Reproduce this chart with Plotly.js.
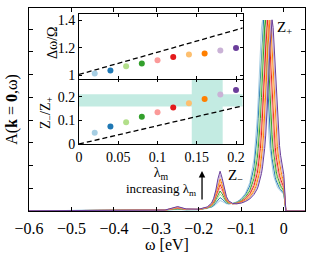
<!DOCTYPE html>
<html><head><meta charset="utf-8">
<script src="https://cdn.plot.ly/plotly-3.0.1.min.js"></script>
<style>html,body{margin:0;padding:0;background:#fff;} #chart{width:312px;height:253px;}</style>
</head><body><div id="chart"></div>
<script>
// ---------- data ----------
const omega = [-0.6,-0.4,-0.32,-0.28,-0.27,-0.25,-0.23,-0.2,-0.18,-0.17,-0.165,-0.16,-0.155,-0.15,-0.145,-0.14,-0.135,-0.13,-0.12,-0.11,-0.1,-0.09,-0.08,-0.07,
 -0.065,-0.0625,-0.06,-0.0575,-0.055,-0.0525,-0.05,-0.0475,-0.045,-0.0425,-0.04,-0.0375,-0.035,-0.0325,-0.03,-0.0275,-0.025,-0.0225,-0.02,-0.0175,-0.015,-0.0125,-0.01,-0.0075,-0.005,-0.0025,0,
 0.005,0.05];

const spec_l002 = [0.01,0.02,0.03,0.04,0.05,0.06,0.05,0.06,0.11,0.16,0.21,0.29,0.39,0.46,0.42,0.36,0.32,0.31,0.34,0.41,0.55,0.79,1.25,2.30,
 3.34,4.08,5.00,6.07,7.17,8.05,8.40,8.05,7.17,6.07,5.00,4.08,3.34,2.75,2.30,1.95,1.67,1.46,1.30,1.17,1.06,0.98,0.92,0.86,0.82,0.78,0.73,0,0];
const spec_l004 = [0.01,0.02,0.03,0.04,0.055,0.075,0.055,0.06,0.12,0.18,0.25,0.35,0.49,0.59,0.52,0.42,0.35,0.32,0.33,0.39,0.51,0.72,1.10,1.94,
 2.75,3.34,4.08,5.00,6.07,7.17,8.05,8.40,8.05,7.17,6.07,5.00,4.08,3.34,2.75,2.31,1.96,1.68,1.48,1.32,1.19,1.08,1.00,0.94,0.88,0.83,0.78,0,0];
const spec_l006 = [0.01,0.02,0.03,0.04,0.06,0.09,0.06,0.06,0.13,0.20,0.29,0.43,0.61,0.74,0.64,0.49,0.38,0.33,0.33,0.38,0.48,0.66,0.98,1.66,
 2.30,2.75,3.34,4.08,5.00,6.07,7.17,8.05,8.40,8.05,7.17,6.07,5.00,4.08,3.34,2.76,2.32,1.97,1.70,1.50,1.34,1.21,1.10,1.02,0.96,0.89,0.83,0,0];
const spec_l008 = [0.01,0.02,0.03,0.04,0.064,0.105,0.064,0.07,0.13,0.23,0.33,0.50,0.73,0.88,0.75,0.55,0.41,0.35,0.32,0.36,0.45,0.61,0.88,1.44,
 1.94,2.30,2.75,3.34,4.08,5.00,6.07,7.17,8.05,8.40,8.05,7.17,6.07,5.00,4.08,3.35,2.77,2.33,1.99,1.72,1.52,1.36,1.23,1.12,1.04,0.97,0.89,0,0];
const spec_l010 = [0.01,0.02,0.03,0.04,0.068,0.12,0.068,0.07,0.14,0.25,0.37,0.57,0.84,1.03,0.87,0.62,0.45,0.36,0.32,0.35,0.43,0.57,0.80,1.25,
 1.65,1.94,2.30,2.75,3.34,4.08,5.00,6.07,7.17,8.05,8.40,8.05,7.17,6.07,5.00,4.09,3.36,2.78,2.35,2.01,1.74,1.54,1.38,1.25,1.14,1.05,0.97,0,0];
const spec_l012 = [0.01,0.02,0.03,0.04,0.073,0.135,0.073,0.07,0.15,0.27,0.40,0.64,0.96,1.17,0.98,0.69,0.48,0.38,0.32,0.34,0.41,0.53,0.73,1.11,
 1.43,1.65,1.94,2.30,2.75,3.34,4.08,5.00,6.07,7.17,8.05,8.40,8.05,7.17,6.07,5.01,4.10,3.37,2.80,2.37,2.03,1.76,1.56,1.40,1.27,1.15,1.05,0,0];
const spec_l014 = [0.01,0.02,0.03,0.04,0.077,0.15,0.077,0.07,0.16,0.29,0.44,0.70,1.05,1.29,1.07,0.75,0.51,0.39,0.32,0.33,0.39,0.50,0.67,0.98,
 1.25,1.43,1.65,1.94,2.30,2.75,3.34,4.08,5.00,6.07,7.17,8.05,8.40,8.05,7.17,6.08,5.02,4.11,3.39,2.82,2.39,2.05,1.78,1.58,1.42,1.28,1.15,0,0];
const spec_l016 = [0.01,0.02,0.03,0.04,0.082,0.165,0.082,0.07,0.16,0.30,0.47,0.76,1.15,1.42,1.17,0.81,0.54,0.40,0.32,0.32,0.38,0.47,0.61,0.88,
 1.10,1.25,1.43,1.65,1.94,2.30,2.75,3.34,4.08,5.00,6.07,7.17,8.05,8.40,8.05,7.18,6.09,5.03,4.13,3.41,2.84,2.41,2.07,1.80,1.60,1.43,1.28,0,0];
const spec_l018 = [0.01,0.02,0.03,0.04,0.086,0.18,0.086,0.08,0.17,0.33,0.51,0.84,1.28,1.58,1.31,0.89,0.59,0.43,0.32,0.32,0.36,0.45,0.57,0.80,
 0.97,1.10,1.25,1.43,1.65,1.94,2.30,2.75,3.34,4.08,5.00,6.07,7.17,8.05,8.40,8.06,7.19,6.10,5.05,4.15,3.43,2.86,2.43,2.09,1.82,1.61,1.43,0,0];
const spec_l020 = [0.01,0.02,0.03,0.04,0.09,0.195,0.09,0.08,0.18,0.35,0.56,0.92,1.42,1.75,1.44,0.97,0.63,0.45,0.33,0.32,0.35,0.42,0.53,0.73,
 0.87,0.97,1.10,1.25,1.43,1.65,1.94,2.30,2.75,3.34,4.08,5.00,6.07,7.17,8.05,8.41,8.07,7.20,6.12,5.07,4.17,3.45,2.88,2.45,2.11,1.83,1.61,0,0];

const spectra = [spec_l002,spec_l004,spec_l006,spec_l008,spec_l010,spec_l012,spec_l014,spec_l016,spec_l018,spec_l020];

const lambdaM = [0.02,0.04,0.06,0.08,0.10,0.12,0.14,0.16,0.18,0.20];
const dOmegaRatio = [1.012,1.035,1.065,1.086,1.11,1.133,1.152,1.159,1.18,1.198];
const zRatio = [0.048,0.074,0.092,0.116,0.135,0.155,0.173,0.191,0.21,0.229];

const dashTopX = [0, 0.2085], dashTopY = [1.005, 1.345];
const dashBotX = [0, 0.2085], dashBotY = [0, 0.162];
const bandZ = [0.159, 0.211];
const bandLambda = [0.1436, 0.183];

const mainXTicks = [-0.6,-0.5,-0.4,-0.3,-0.2,-0.1,0];
const mainXLabels = ['−0.6','−0.5','−0.4','−0.3','−0.2','−0.1','0'];
const mainYTicks = [1,2,3,4,5,6,7,8];
const insetXTicks = [0,0.05,0.1,0.15,0.2];
const insetXLabels = ['0','0.05','0.1','0.15','0.2'];
const topYTicks = [1,1.2,1.4], topYLabels = ['1','1.2','1.4'];
const botYTicks = [0,0.1,0.2], botYLabels = ['0','0.1','0.2'];

const colors = ['#a6cee3','#1f78b4','#b2df8a','#33a02c','#fb9a99','#e31a1c','#fdbf6f','#ff7f00','#cab2d6','#6a3d9a'];

// ---------- traces ----------
const traces = [];
spectra.forEach((s,i)=>{
  traces.push({x:omega, y:s, type:'scatter', mode:'lines', xaxis:'x', yaxis:'y',
    line:{color:colors[i], width:1}, hoverinfo:'skip'});
});
traces.push({x:dashTopX, y:dashTopY, xaxis:'x3', yaxis:'y3', mode:'lines', line:{color:'black', width:1.3, dash:'5px,3px'}});
traces.push({x:dashBotX, y:dashBotY, xaxis:'x2', yaxis:'y2', mode:'lines', line:{color:'black', width:1.3, dash:'5px,3px'}});
traces.push({x:lambdaM, y:dOmegaRatio, xaxis:'x3', yaxis:'y3', mode:'markers', marker:{color:colors, size:6}});
traces.push({x:lambdaM, y:zRatio, xaxis:'x2', yaxis:'y2', mode:'markers', marker:{color:colors, size:6}});

const F = 'Liberation Serif, Times New Roman, serif';
const axBase = {showline:true, linecolor:'black', linewidth:1, mirror:'ticks', ticks:'inside',
  tickcolor:'black', showgrid:false, zeroline:false, fixedrange:true};
const bandColor = '#c3ebe2';

const layout = {
  width:312, height:253, margin:{l:29, r:7, t:8, b:42},
  paper_bgcolor:'white', plot_bgcolor:'white', showlegend:false,
  font:{family:F, size:14, color:'black'},
  xaxis:Object.assign({}, axBase, {domain:[0,1], anchor:'y', range:[-0.6,0.05], tickvals:mainXTicks, ticktext:mainXLabels,
    ticklen:4, tickfont:{size:16}, ticklabelstandoff:3, title:{text:'ω [eV]', font:{size:16}, standoff:6}}),
  yaxis:Object.assign({}, axBase, {domain:[0,1], anchor:'x', range:[0,8.93], tickvals:mainYTicks, showticklabels:false,
    ticklen:4, title:{text:'A(<b>k</b> = <b>0</b>,ω)', font:{size:16}, standoff:6}}),
  xaxis2:Object.assign({}, axBase, {domain:[0.1812,0.7743], anchor:'y2', range:[0,0.2085], tickvals:insetXTicks, ticktext:insetXLabels,
    ticklen:3, tickfont:{size:14}, title:{text:'λ<sub>m</sub>', font:{size:14}, standoff:0}}),
  yaxis2:Object.assign({}, axBase, {domain:[0.330,0.6488], anchor:'x2', range:[0,0.275], tickvals:botYTicks, ticktext:botYLabels,
    ticklen:3, tickfont:{size:14}}),
  xaxis3:Object.assign({}, axBase, {domain:[0.1812,0.7743], anchor:'y3', range:[0,0.2085], tickvals:insetXTicks, showticklabels:false, ticklen:3}),
  yaxis3:Object.assign({}, axBase, {domain:[0.6488,0.9704], anchor:'x3', range:[0.97,1.447], tickvals:topYTicks, ticktext:topYLabels,
    ticklen:3, tickfont:{size:14}}),
  shapes:[
    {type:'rect', xref:'x2', yref:'y2', x0:0, x1:0.2085, y0:bandZ[0], y1:bandZ[1], fillcolor:bandColor, line:{width:0}, layer:'below'},
    {type:'rect', xref:'x2', yref:'y2', x0:bandLambda[0], x1:bandLambda[1], y0:0, y1:0.275, fillcolor:bandColor, line:{width:0}, layer:'below'}
  ],
  annotations:[
    {xref:'paper', yref:'paper', x:0.0833, y:0.8325, xanchor:'center', yanchor:'middle', textangle:-90,
     text:'Δω/Ω', showarrow:false, font:{size:14}},
    {xref:'paper', yref:'paper', x:0.0652, y:0.4877, xanchor:'center', yanchor:'middle', textangle:-90,
     text:'Z<sub>−</sub>/Z<sub>+</sub>', showarrow:false, font:{size:14}},
    {xref:'x', yref:'y', axref:'x', ayref:'y', x:-0.1925, y:1.76, ax:-0.1925, ay:0.44, text:'', showarrow:true,
     arrowhead:2, arrowsize:1, arrowwidth:1.3, arrowcolor:'black'},
    {xref:'x', yref:'y', x:-0.201, y:0.93, xanchor:'right', yanchor:'middle', text:'increasing λ<sub>m</sub>', showarrow:false, font:{size:13}},
    {xref:'x', yref:'y', x:-0.135, y:1.55, xanchor:'left', yanchor:'middle', text:'Z<sub>−</sub>', showarrow:false, font:{size:15}},
    {xref:'x', yref:'y', x:-0.021, y:8.05, xanchor:'left', yanchor:'middle', text:'Z<sub>+</sub>', showarrow:false, font:{size:15}}
  ]
};

Plotly.newPlot('chart', traces, layout, {displayModeBar:false, staticPlot:true});
</script>
</body></html>
